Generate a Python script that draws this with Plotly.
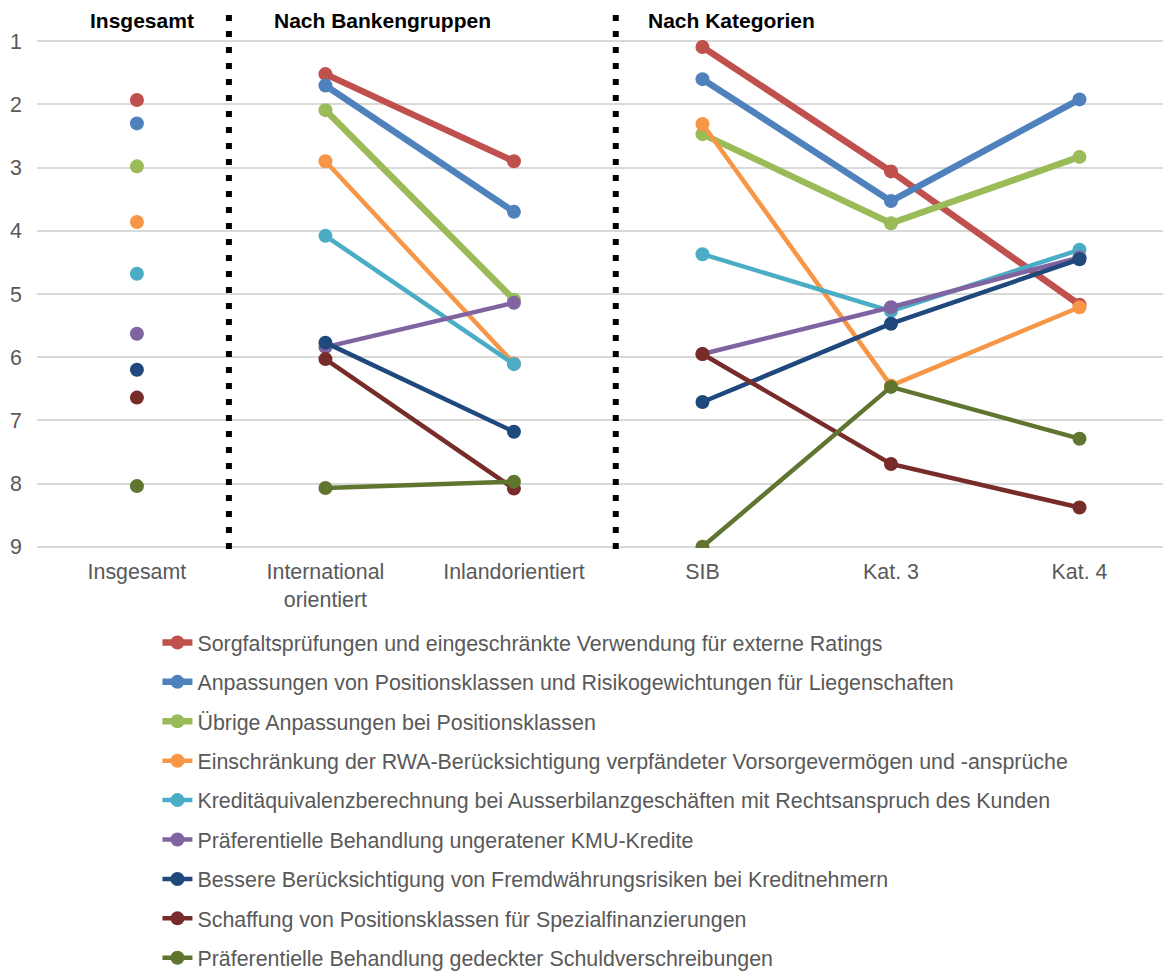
import plotly.graph_objects as go

categories = ["Insgesamt", "International<br>orientiert", "Inlandorientiert", "SIB", "Kat. 3", "Kat. 4"]
group_headers = ["Insgesamt", "Nach Bankengruppen", "Nach Kategorien"]

series_names = [
    "Sorgfaltsprüfungen und eingeschränkte Verwendung für externe Ratings",
    "Anpassungen von Positionsklassen und Risikogewichtungen für Liegenschaften",
    "Übrige Anpassungen bei Positionsklassen",
    "Einschränkung der RWA-Berücksichtigung verpfändeter Vorsorgevermögen und -ansprüche",
    "Kreditäquivalenzberechnung bei Ausserbilanzgeschäften mit Rechtsanspruch des Kunden",
    "Präferentielle Behandlung ungeratener KMU-Kredite",
    "Bessere Berücksichtigung von Fremdwährungsrisiken bei Kreditnehmern",
    "Schaffung von Positionsklassen für Spezialfinanzierungen",
    "Präferentielle Behandlung gedeckter Schuldverschreibungen",
]

# values per category: Insgesamt, International, Inland, SIB, Kat.3, Kat.4
s1 = [1.93, 1.52, 2.90, 1.09, 3.06, 5.17]
s2 = [2.30, 1.70, 3.70, 1.60, 3.53, 1.92]
s3 = [2.98, 2.09, 5.09, 2.47, 3.88, 2.83]
s4 = [3.86, 2.90, 6.10, 2.31, 6.45, 5.21]
s5 = [4.68, 4.08, 6.11, 4.37, 5.27, 4.30]
s6 = [5.63, 5.84, 5.14, 5.95, 5.21, 4.42]
s7 = [6.20, 5.77, 7.18, 6.71, 5.47, 4.45]
s8 = [6.64, 6.03, 8.08, 5.95, 7.69, 8.38]
s9 = [8.04, 8.07, 7.97, 9.00, 6.47, 7.29]
series_values = [s1, s2, s3, s4, s5, s6, s7, s8, s9]

colors = ["#C0504D", "#4F81BD", "#9BBB59", "#F79646", "#4BACC6",
          "#8064A2", "#1F497D", "#772C2A", "#5F7530"]
widths = [6.5, 6.5, 6.5, 4.5, 4.5, 4.5, 4.5, 4.5, 4.5]

FONT = "Liberation Sans, Arial, sans-serif"
GRAY = "#595959"
FS = 21.4

fig = go.Figure()
xs = [0, 0.5, 1, 2, 2.5, 3, 4, 5]
for name, vals, c, w in zip(series_names, series_values, colors, widths):
    ys = [vals[0], None, vals[1], vals[2], None, vals[3], vals[4], vals[5]]
    fig.add_trace(go.Scatter(
        x=xs, y=ys, name=name, mode="lines+markers",
        line=dict(color=c, width=w), marker=dict(color=c, size=14),
        connectgaps=False, legendgroup=name,
    ))

for xv in [0.488, 2.54]:
    fig.add_shape(type="line", xref="x", yref="paper", x0=xv, x1=xv, y0=-0.002, y1=1.052,
                  line=dict(color="black", width=6, dash="6px,10px"))

header_x = [-0.26, 0.716, 2.70]
for hx, ht in zip(header_x, group_headers):
    fig.add_annotation(x=hx, xref="x", y=1.0388, yref="paper", text="<b>" + ht + "</b>",
                       showarrow=False, xanchor="left", yanchor="middle",
                       font=dict(family=FONT, size=21, color="black"))

fig.update_layout(
    width=1163, height=966,
    margin=dict(l=29, r=1, t=32, b=426, autoexpand=False),
    plot_bgcolor="white", paper_bgcolor="white",
    font=dict(family=FONT, size=FS, color=GRAY),
    xaxis=dict(range=[-0.53, 5.48], tickvals=[0, 1, 2, 3, 4, 5], ticktext=categories,
               showgrid=False, zeroline=False, showline=False, ticks="", tickangle=0,
               ticklabelstandoff=9, tickfont=dict(size=FS, color=GRAY)),
    yaxis=dict(range=[9.02, 0.98], tickvals=list(range(1, 10)), showgrid=True,
               gridcolor="#D9D9D9", gridwidth=2, zeroline=False, showline=False,
               ticks="", ticklabelstandoff=14, tickfont=dict(size=FS, color=GRAY)),
    legend=dict(x=0.1063, y=-0.1457, xanchor="left", yanchor="top", orientation="v",
                font=dict(family=FONT, size=FS, color=GRAY),
                tracegroupgap=8.6, bgcolor="rgba(0,0,0,0)"),
    showlegend=True,
)

fig.write_html("out.html")
